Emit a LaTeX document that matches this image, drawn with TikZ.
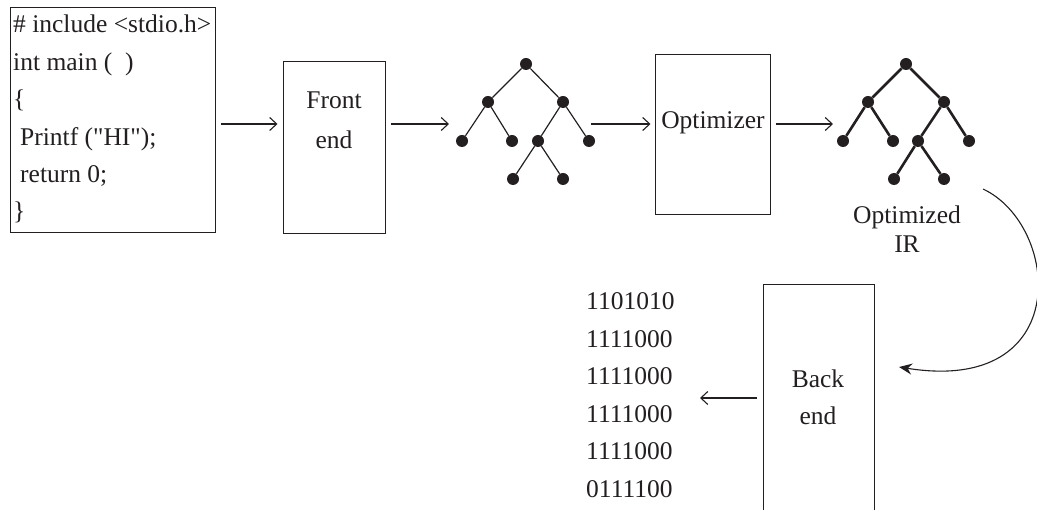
\documentclass[tikz,border=0pt]{standalone}
\usepackage{fontspec}
\setmainfont{Liberation Serif}
\usetikzlibrary{arrows.meta}
\definecolor{ink}{HTML}{231F20}
\begin{document}
\begin{tikzpicture}[x=1pt,y=-1pt,
  every node/.style={text=ink,font=\fontsize{25.5}{29}\selectfont},
  box/.style={draw=ink,line width=1pt,inner sep=0pt},
  txt/.style={anchor=base west,inner sep=0pt},
  ctxt/.style={inner sep=0pt},
  conn/.style={draw=ink,line width=1.1pt,-{Straight Barb[length=7pt,width=13pt,line width=1.1pt]}},
  dot/.style={circle,fill=ink,inner sep=0pt,minimum size=12pt},
  edgeA/.style={draw=ink,line width=1.2pt},
  edgeB/.style={draw=ink,line width=2.6pt}]
\useasboundingbox (0,0) rectangle (1037,510);
\clip (0,0) rectangle (1037,510);
% code box
\node[box,minimum width=205pt,minimum height=225pt] (code) at (112.5,120.5) {};
\node[txt] (l1) at (13,33) {\# include <stdio.h>};
\node[txt] (l2) at (13,71) {int main (\ \ )};
\node[txt] (l3) at (13,108) {\{};
\node[txt] (l4) at (20,146) {Printf (\textquotedbl HI\textquotedbl);};
\node[txt] (l5) at (20,183) {return 0;};
\node[txt] (l6) at (13,220) {\}};
% front end
\node[box,minimum width=102pt,minimum height=172pt] (front) at (334,148) {};
\node[ctxt] (ft) at (334,100) {Front};
\node[ctxt] (fe) at (334,140) {end};
% tree 1
\node[dot] (a0) at (526,64) {};
\node[dot] (a1) at (488,102) {};
\node[dot] (a2) at (563,102) {};
\node[dot] (a3) at (462,141) {};
\node[dot] (a4) at (512,141) {};
\node[dot] (a5) at (538,141) {};
\node[dot] (a6) at (589,141) {};
\node[dot] (a7) at (513,179) {};
\node[dot] (a8) at (563,179) {};
\draw[edgeA] (a0)--(a1) (a0)--(a2) (a1)--(a3) (a1)--(a4) (a2)--(a5) (a2)--(a6) (a5)--(a7) (a5)--(a8);
% optimizer
\node[box,minimum width=115pt,minimum height=160pt] (opt) at (712.5,135) {};
\node[ctxt] (ot) at (713,123) {Optimizer};
% tree 2
\node[dot] (b0) at (906,64) {};
\node[dot] (b1) at (868,102) {};
\node[dot] (b2) at (944,102) {};
\node[dot] (b3) at (843,141) {};
\node[dot] (b4) at (893,141) {};
\node[dot] (b5) at (918,141) {};
\node[dot] (b6) at (969,141) {};
\node[dot] (b7) at (894,179) {};
\node[dot] (b8) at (944,179) {};
\draw[edgeB] (b0)--(b1) (b0)--(b2) (b1)--(b3) (b1)--(b4) (b2)--(b5) (b2)--(b6) (b5)--(b7) (b5)--(b8);
\node[ctxt] (oi1) at (907,217) {Optimized};
\node[ctxt] (oi2) at (907,244) {IR};
% back end
\node[box,minimum width=111pt,minimum height=240pt] (back) at (818.5,405) {};
\node[ctxt] (bt) at (818,379) {Back};
\node[ctxt] (be) at (818,416) {end};
% binary
\node[txt] (n1) at (586,310) {1101010};
\node[txt] (n2) at (586,348) {1111000};
\node[txt] (n3) at (586,385) {1111000};
\node[txt] (n4) at (586,423) {1111000};
\node[txt] (n5) at (586,460) {1111000};
\node[txt] (n6) at (586,498) {0111100};
% coordinates
\coordinate (t1in) at (449,124);
\coordinate (t1out) at (591,124);
\coordinate (t2in) at (833,124);
\coordinate (binout) at (700,398);
\coordinate (cs) at (983,189);
\coordinate (ce) at (899,367);
% connectors
\draw[conn] ([xshift=5pt]code.east|-t1in) -- ([xshift=-5pt]front.west|-t1in);
\draw[conn] ([xshift=5pt]front.east|-t1in) -- (t1in);
\draw[conn] (t1out) -- ([xshift=-4pt]opt.west|-t1out);
\draw[conn] ([xshift=5pt]opt.east|-t2in) -- (t2in);
\draw[conn] ([xshift=-6pt]back.west|-binout) -- (binout);
\draw[draw=ink,line width=1.1pt,-{Stealth[length=13pt,width=11pt]}] (cs) .. controls (1060,225) and (1075,395) .. (ce);
\end{tikzpicture}
\end{document}
